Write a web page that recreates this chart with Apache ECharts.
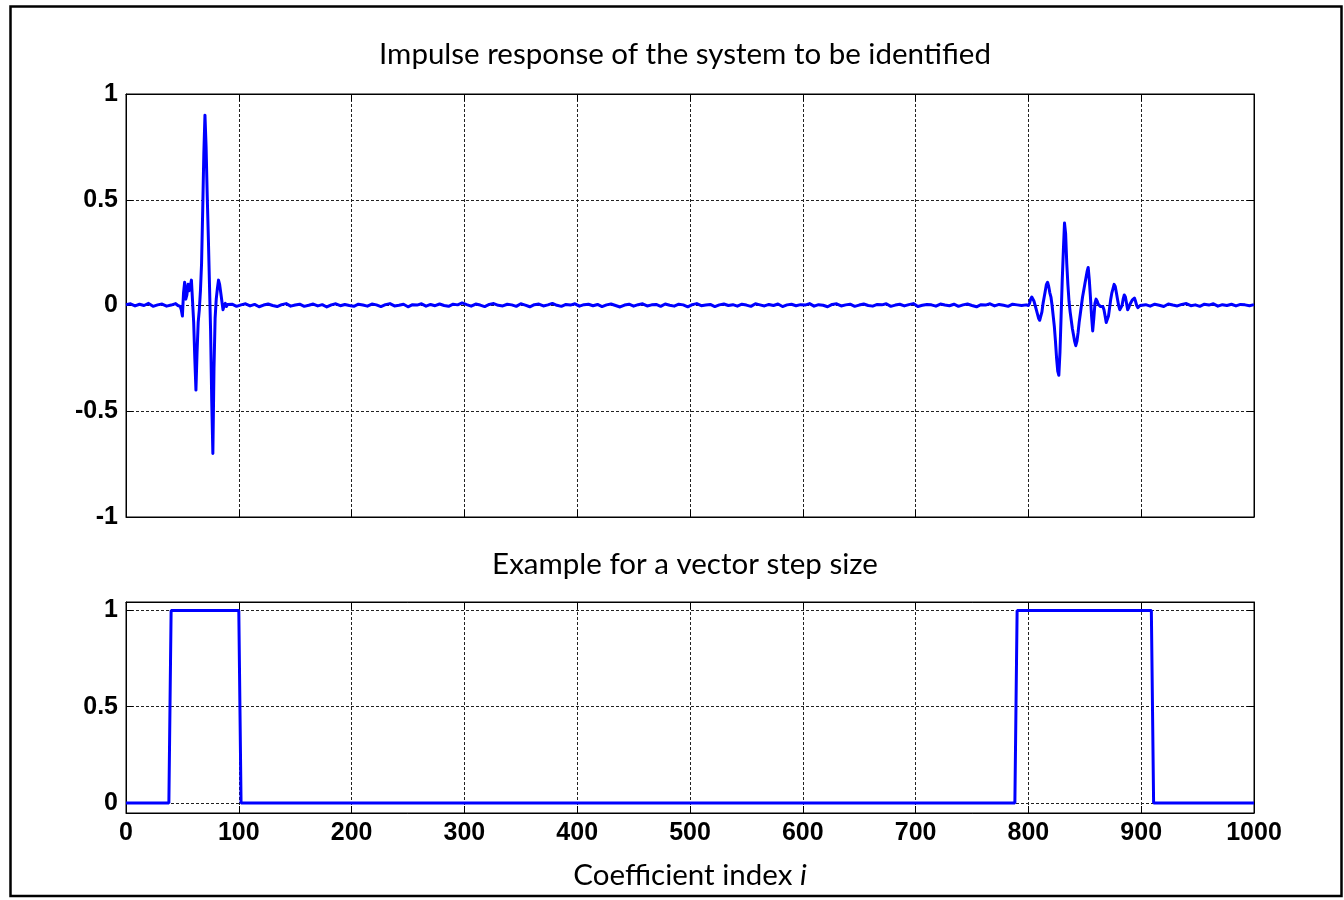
<!DOCTYPE html>
<html>
<head>
<meta charset="utf-8">
<title>Impulse response and vector step size</title>
<script src="https://cdn.jsdelivr.net/npm/echarts@6/dist/echarts.min.js"></script>
<style>
  html, body { margin: 0; padding: 0; background: #fff; }
  #chart { width: 1344px; height: 900px; }
</style>
</head>
<body>
<div id="chart"></div>
<script>
// ---- Impulse response h(i) ----
// quiet stretches are listed every quietStep coefficients, the two echo clusters sample by sample
const quietStep = 4;

const quietHeadStart = 0;
const quietHeadVals = [0.004, 0.008, -0.002, 0.006, 0.0, 0.01, -0.004, 0.003, 0.007, -0.003, 0.002, 0.009];

const cluster1Start = 45;
const cluster1Vals = [
  0.005, 0.0, 0.008, -0.004, -0.02, -0.05, 0.06, 0.11, 0.03, 0.05,
  0.10, 0.07, 0.09, 0.12, 0.02, -0.08, -0.25, -0.40, -0.22, -0.08,
  -0.02, 0.07, 0.20, 0.45, 0.72, 0.90, 0.75, 0.52, 0.32, 0.10,
  -0.12, -0.45, -0.70, -0.30, -0.06, 0.03, 0.08, 0.12, 0.10, 0.06,
  0.02, -0.02, 0.00, 0.01, -0.005, 0.005
];

const quietMidStart = 94;
const quietMidVals = [
  0.006, -0.004, 0.003, 0.008, -0.002, 0.005, -0.006, 0.002, 0.007, 0.0, -0.005, 0.004, 0.009, -0.003, 0.002, 0.006,
  -0.004, 0.001, 0.007, -0.002, 0.004, -0.007, 0.003, 0.008, -0.001, 0.005, 0.0, -0.004, 0.006, 0.002, -0.003, 0.007,
  0.003, -0.005, 0.004, 0.009, -0.002, 0.001, 0.006, -0.006, 0.004, 0.002, 0.008, -0.003, 0.005, -0.001, 0.007, 0.0,
  -0.004, 0.006, 0.003, 0.012, 0.004, -0.003, 0.007, 0.002, -0.005, 0.005, 0.009, 0.001, -0.002, 0.006, 0.003, -0.004,
  0.008, 0.002, -0.006, 0.004, 0.007, -0.002, 0.003, 0.010, 0.001, -0.004, 0.005, 0.002, 0.008, -0.003, 0.004, 0.006,
  -0.001, 0.005, -0.005, 0.003, 0.007, 0.0, -0.007, 0.002, 0.006, -0.003, 0.004, 0.008, -0.002, 0.003, 0.005, -0.004,
  0.007, 0.001, -0.003, 0.006, 0.003, -0.006, 0.004, 0.009, -0.001, 0.002, 0.005, -0.005, 0.003, 0.007, 0.0, 0.004,
  -0.003, 0.006, 0.002, -0.004, 0.008, 0.003, -0.002, 0.005, 0.0, 0.007, -0.005, 0.003, 0.006, -0.001, 0.004, 0.002,
  0.009, -0.003, 0.004, 0.001, -0.006, 0.005, 0.008, -0.002, 0.003, 0.006, -0.004, 0.002, 0.007, 0.0, -0.003, 0.005,
  0.003, 0.008, -0.004, 0.002, 0.006, -0.002, 0.004, 0.009, -0.005, 0.001, 0.005, 0.003, -0.003, 0.007, 0.002, -0.001,
  0.006, -0.004, 0.003, 0.007, 0.0, -0.006, 0.004, 0.002, 0.008, -0.002, 0.005, 0.001, -0.004, 0.006, 0.003, 0.0
];

const cluster2Start = 798;
const cluster2Vals = [
  0.003, -0.004, 0.0, 0.01, 0.03, 0.04, 0.04, 0.02, 0.0, -0.02,
  -0.04, -0.06, -0.07, -0.065, -0.03, 0.01, 0.04, 0.07, 0.10, 0.11,
  0.09, 0.06, 0.04, 0.0, -0.05, -0.10, -0.17, -0.25, -0.31, -0.33,
  -0.22, -0.05, 0.12, 0.26, 0.39, 0.34, 0.20, 0.10, 0.02, -0.03,
  -0.07, -0.11, -0.14, -0.17, -0.19, -0.17, -0.13, -0.08, -0.04, 0.0,
  0.04, 0.07, 0.10, 0.13, 0.16, 0.18, 0.12, 0.04, -0.05, -0.12,
  -0.06, 0.01, 0.03, 0.02, 0.005, 0.0, -0.005, -0.01, -0.005, -0.02,
  -0.05, -0.08, -0.085, -0.05, -0.01, 0.03, 0.06, 0.08, 0.10, 0.09,
  0.06, 0.03, 0.0, -0.02, -0.025, 0.0, 0.03, 0.05, 0.04, 0.01,
  -0.02, -0.01, 0.005, 0.015, 0.025, 0.03, 0.035, 0.02, 0.0, -0.01,
  -0.005, 0.0, 0.002
];

const quietTailStart = 904;
const quietTailVals = [
  0.004, -0.003, 0.006, 0.001, -0.005, 0.007, 0.002, -0.002, 0.005, 0.009,
  -0.001, 0.003, -0.004, 0.006, 0.002, 0.008, -0.003, 0.004, 0.0, 0.006,
  -0.002, 0.005, 0.003, -0.001, 0.004
];

// ---- Vector step size: corner points of the two windows ----
const stepIdx = [0, 38, 39, 40, 100, 101, 102, 788, 789, 790, 909, 910, 911, 1000];
const stepVal = [0, 0, 0.5, 1, 1, 0.5, 0, 0, 0.5, 1, 1, 0.5, 0, 0];

// ---- Axis ticks and texts ----
const xTicks = { min: 0, max: 1000, interval: 100 };
const yTopTicks = { min: -1, max: 1, interval: 0.5 };
const yBottomTickValues = [0, 0.5, 1];
const yBottomRange = [-0.052, 1.044];
const topTitle = 'Impulse response of the system to be identified';
const bottomTitle = 'Example for a vector step size';

function seg(start, step, vals) {
  return vals.map(function (v, k) { return [start + k * step, v]; });
}

const impulseData = []
  .concat(seg(quietHeadStart, quietStep, quietHeadVals))
  .concat(seg(cluster1Start, 1, cluster1Vals))
  .concat(seg(quietMidStart, quietStep, quietMidVals))
  .concat(seg(cluster2Start, 1, cluster2Vals))
  .concat(seg(quietTailStart, quietStep, quietTailVals));

const stepData = stepIdx.map(function (x, k) { return [x, stepVal[k]]; });

const BLUE = '#0000ff';
const plainNumber = function (v) { return String(v); };
const tickFont = { fontFamily: '"Liberation Sans", Arial, sans-serif', fontWeight: 'bold', fontSize: 25, color: '#000' };
const titleFont = 'Lato, "Open Sans", sans-serif';
const titleSize = 29.5;
const dashed = { show: true, lineStyle: { color: '#222', width: 1, type: [3, 2] } };
const frameLine = { show: true, onZero: false, lineStyle: { color: '#000', width: 1 } };
const tickIn = { show: true, inside: true, length: 7, lineStyle: { color: '#000', width: 1 } };

function xAxisFor(gridIndex, position, withLabels) {
  return {
    type: 'value', gridIndex: gridIndex, position: position,
    min: xTicks.min, max: xTicks.max, interval: xTicks.interval,
    axisLine: frameLine, axisTick: tickIn,
    axisLabel: withLabels ? Object.assign({ show: true, margin: 8, formatter: plainNumber }, tickFont) : { show: false },
    splitLine: position === 'bottom' ? dashed : { show: false }
  };
}

const chart = echarts.init(document.getElementById('chart'), null, { renderer: 'canvas' });

chart.setOption({
  animation: false,
  backgroundColor: '#fff',
  grid: [
    { left: 126, right: 90, top: 94, height: 423, show: true, borderColor: '#000', borderWidth: 1, outerBoundsMode: 'none' },
    { left: 126, right: 90, top: 602, height: 211, show: true, borderColor: '#000', borderWidth: 1, outerBoundsMode: 'none' }
  ],
  xAxis: [
    xAxisFor(0, 'bottom', false),
    xAxisFor(0, 'top', false),
    Object.assign(xAxisFor(1, 'bottom', true), {
      name: 'Coefficient index {it|i}',
      nameLocation: 'middle',
      nameGap: 47,
      nameTextStyle: {
        fontFamily: titleFont, fontSize: titleSize, color: '#000',
        rich: { it: { fontFamily: titleFont, fontSize: titleSize, fontStyle: 'italic', color: '#000' } }
      }
    }),
    xAxisFor(1, 'top', false)
  ],
  yAxis: [
    {
      type: 'value', gridIndex: 0, position: 'left',
      min: yTopTicks.min, max: yTopTicks.max, interval: yTopTicks.interval,
      axisLine: frameLine, axisTick: tickIn,
      axisLabel: Object.assign({ show: true, margin: 8, formatter: plainNumber }, tickFont),
      splitLine: dashed
    },
    {
      type: 'value', gridIndex: 0, position: 'right',
      min: yTopTicks.min, max: yTopTicks.max, interval: yTopTicks.interval,
      axisLine: frameLine, axisTick: tickIn, axisLabel: { show: false }, splitLine: { show: false }
    },
    {
      type: 'value', gridIndex: 1, position: 'left',
      min: yBottomRange[0], max: yBottomRange[1],
      axisLine: frameLine,
      axisTick: Object.assign({ customValues: yBottomTickValues }, tickIn),
      axisLabel: Object.assign({ show: true, margin: 8, formatter: plainNumber, customValues: yBottomTickValues }, tickFont),
      splitLine: dashed
    },
    {
      type: 'value', gridIndex: 1, position: 'right',
      min: yBottomRange[0], max: yBottomRange[1],
      axisLine: frameLine,
      axisTick: Object.assign({ customValues: yBottomTickValues }, tickIn),
      axisLabel: { show: false }, splitLine: { show: false }
    }
  ],
  series: [
    {
      name: 'h', type: 'line', xAxisIndex: 0, yAxisIndex: 0,
      data: impulseData, showSymbol: false, symbol: 'none',
      lineStyle: { color: BLUE, width: 3, join: 'round' }, z: 5
    },
    {
      name: 'mu', type: 'line', xAxisIndex: 2, yAxisIndex: 2,
      data: stepData, showSymbol: false, symbol: 'none',
      lineStyle: { color: BLUE, width: 3 }, z: 5
    }
  ],
  graphic: [
    {
      type: 'rect', silent: true, z: 100,
      shape: { x: 10.5, y: 6.5, width: 1331, height: 889.5 },
      style: { fill: null, stroke: '#000', lineWidth: 2.5 }
    },
    {
      type: 'text', silent: true, x: 685, y: 54,
      style: { text: topTitle, fill: '#000', font: titleSize + 'px ' + titleFont, textAlign: 'center', textVerticalAlign: 'middle' }
    },
    {
      type: 'text', silent: true, x: 685, y: 564,
      style: { text: bottomTitle, fill: '#000', font: titleSize + 'px ' + titleFont, textAlign: 'center', textVerticalAlign: 'middle' }
    }
  ]
});
</script>
</body>
</html>
